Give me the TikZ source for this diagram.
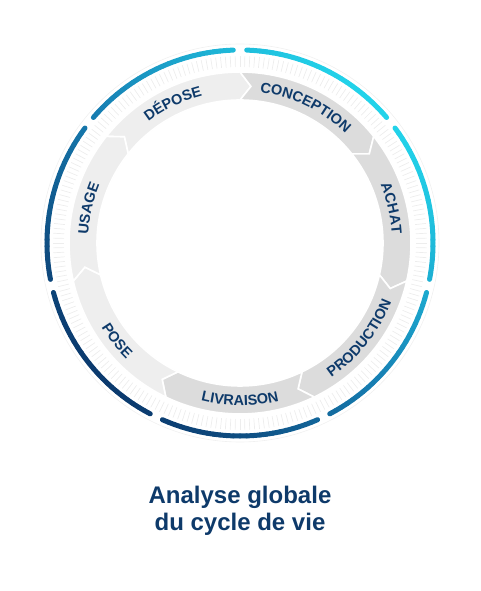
\documentclass[tikz,border=0pt]{standalone}
\usepackage{fontspec}
\setmainfont{Liberation Sans}
\usepackage{tikz}
\usetikzlibrary{decorations.text}
\definecolor{navytext}{HTML}{0E3A6A}
\definecolor{ringA}{HTML}{22D3EA}
\definecolor{ringB}{HTML}{1780B4}
\definecolor{ringC}{HTML}{0B3A6E}
\definecolor{bandlight}{HTML}{EEEEEE}
\definecolor{banddark}{HTML}{DCDCDC}
\definecolor{tickgray}{HTML}{EDEDED}
\newcommand{\rIn}{143}
\newcommand{\rMid}{157}
\newcommand{\rOut}{171}
\newcommand{\rRing}{193}
\newcommand{\tipdepth}{4}

\begin{document}
\begin{tikzpicture}[
  x=1pt,y=1pt,
  stepseg/.style={fill=#1,draw=white,line width=1.6pt,line join=miter},
  ringpart/.style={line width=5pt,line cap=round},
  titletext/.style={anchor=base,text=navytext,font=\bfseries\fontsize{24}{29}\selectfont}
]
\useasboundingbox (-240,243) rectangle (240,-348);

% faint rims and ticks
\draw[gray!12,line width=0.6pt] (0,0) circle[radius=199];
\foreach \a in {0,1.5,...,358.5}
  \draw[tickgray,line width=0.7pt] (\a:176) -- (\a:187);

% blue ring, seven parts
\foreach \k in {0,...,6}{
  \pgfmathsetmacro{\s}{90-\k*360/7-2}
  \pgfmathsetmacro{\e}{90-(\k+1)*360/7+2}
  \foreach \i in {0,...,23}{
    \pgfmathsetmacro{\aa}{\s+(\e-\s)*\i/24}
    \pgfmathsetmacro{\bb}{\s+(\e-\s)*(\i+1)/24}
    \pgfmathsetmacro{\t}{(1-cos((\aa+\bb)/2-45))/2}
    \ifdim\t pt<0.5pt
      \pgfmathsetmacro{\p}{200*\t}\colorlet{rc}{ringB!\p!ringA}
    \else
      \pgfmathsetmacro{\p}{200*\t-100}\colorlet{rc}{ringC!\p!ringB}
    \fi
    \draw[ringpart,rc] (\aa:\rRing) arc[start angle=\aa,end angle=\bb,radius=\rRing];
  }
}

% arrow band
\foreach \k/\c in {0/bandlight,1/banddark,2/banddark,3/banddark,4/banddark,5/bandlight,6/bandlight}{
  \pgfmathsetmacro{\s}{141.43-\k*360/7}
  \pgfmathsetmacro{\e}{\s-360/7}
  \path[stepseg=\c] (\s:\rOut) arc[start angle=\s,end angle=\e,radius=\rOut]
    -- (\e-\tipdepth:\rMid) -- (\e:\rIn)
    arc[start angle=\e,end angle=\s,radius=\rIn]
    -- (\s-\tipdepth:\rMid) -- cycle;
}

% labels, top half read clockwise
\foreach \m/\txt in {115.71/DÉPOSE,64.29/CONCEPTION,12.86/ACHAT,167.14/USAGE}
  \path[decorate,decoration={text along path,text align=center,text color=navytext,
      text={|\bfseries\fontsize{14.5}{16}\selectfont|\txt}}]
    (\m+40:152) arc[start angle=\m+40,end angle=\m-40,radius=152];
% labels, bottom half read counter-clockwise
\foreach \m/\txt in {-38.57/PRODUCTION,-90/LIVRAISON,-141.43/POSE}
  \path[decorate,decoration={text along path,text align=center,text color=navytext,
      text={|\bfseries\fontsize{14.5}{16}\selectfont|\txt}}]
    (\m-40:162.5) arc[start angle=\m-40,end angle=\m+40,radius=162.5];

% title
\node[titletext] (title1) at (0,-260) {Analyse globale};
\node[titletext] (title2) at (0,-287) {du cycle de vie};
\end{tikzpicture}
\end{document}
